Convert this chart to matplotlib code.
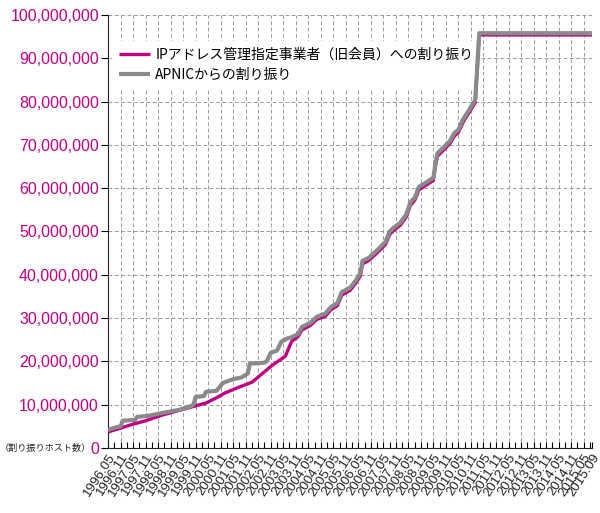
import numpy as np
import matplotlib
matplotlib.use('Agg')
import matplotlib.pyplot as plt
import matplotlib.dates as mdates
import matplotlib.transforms as mtransforms
import pandas as pd

plt.rcParams['font.family'] = ['Noto Sans CJK JP', 'DejaVu Sans']

# APNICからの割り振り (百万ホスト)
apnic_dates = ['1996-05', '1996-07', '1996-09', '1996-11', '1996-12', '1997-06', '1997-07',
               '1997-12', '1998-07', '1999-03', '1999-09', '1999-10', '1999-11', '2000-03',
               '2000-04', '2000-09', '2000-12', '2001-01', '2001-05', '2001-09', '2001-12',
               '2002-01', '2002-08', '2002-09', '2002-11', '2003-02', '2003-04', '2003-07',
               '2003-09', '2003-12', '2004-02', '2004-06', '2004-09', '2005-01', '2005-04',
               '2005-07', '2005-09', '2006-01', '2006-04', '2006-06', '2006-07', '2006-10',
               '2007-02', '2007-06', '2007-08', '2007-10', '2008-01', '2008-04', '2008-06',
               '2008-08', '2008-10', '2009-02', '2009-05', '2009-06', '2009-07', '2009-11',
               '2010-01', '2010-03', '2010-05', '2010-07', '2010-08', '2010-10', '2011-01',
               '2011-03', '2015-09']
apnic_vals = [4.2, 4.5, 4.8, 5.0, 6.3, 6.5, 7.2,
              7.4, 8.1, 8.8, 9.7, 10.1, 11.8, 12.0,
              13.0, 13.2, 15.0, 15.2, 15.9, 16.3, 17.2,
              19.5, 19.7, 20.0, 22.0, 22.5, 24.5, 25.3,
              25.6, 26.3, 28.0, 28.9, 30.3, 31.0, 32.6,
              33.5, 36.0, 37.0, 38.8, 40.5, 43.2, 43.9,
              45.7, 47.6, 50.0, 50.9, 52.0, 54.0, 56.8,
              57.8, 60.3, 61.5, 62.4, 66.0, 68.1, 70.0,
              71.0, 72.7, 73.5, 75.7, 76.5, 78.0, 80.4,
              95.8, 95.8]

# IPアドレス管理指定事業者(旧会員)への割り振り (百万ホスト)
member_dates = ['1996-05', '1996-11', '1997-05', '1997-11', '1998-07', '1999-04', '1999-10',
                '2000-04', '2000-09', '2001-01', '2001-07', '2002-02', '2002-06', '2002-12',
                '2003-06', '2003-09', '2003-12', '2004-02', '2004-06', '2004-09', '2005-01',
                '2005-04', '2005-07', '2005-09', '2006-01', '2006-04', '2006-06', '2006-07',
                '2006-10', '2007-02', '2007-06', '2007-08', '2007-10', '2008-01', '2008-04',
                '2008-06', '2008-08', '2008-10', '2009-02', '2009-05', '2009-06', '2009-07',
                '2009-11', '2010-01', '2010-03', '2010-05', '2010-07', '2010-08', '2010-10',
                '2011-01', '2011-03', '2015-09']
member_vals = [3.7, 4.6, 5.5, 6.3, 7.6, 8.8, 9.6,
               10.4, 11.6, 12.7, 13.9, 15.2, 16.8, 19.2,
               21.2, 24.6, 25.7, 27.3, 28.3, 29.7, 30.4,
               32.0, 32.9, 35.3, 36.4, 38.2, 39.8, 42.5,
               43.3, 45.1, 47.0, 49.3, 50.3, 51.4, 53.4,
               56.1, 57.2, 59.6, 60.9, 61.8, 65.3, 67.4,
               69.4, 70.4, 72.0, 72.9, 75.0, 75.9, 77.4,
               79.8, 95.4, 95.4]

tick_labels = ['%d.%s' % (y, m) for y in range(1996, 2016) for m in ('05', '11')]
tick_labels = [t for t in tick_labels if t != '2015.11'] + ['2015.09']

pink = '#be0082'
gray = '#8a8a8a'

fig = plt.figure(figsize=(6.0, 5.13), dpi=100)
ax = fig.add_axes([108 / 600, 65 / 513, 484 / 600, 433 / 513])

ax.plot(pd.to_datetime(member_dates), np.array(member_vals) * 1e6, color=pink, lw=2.4,
        solid_capstyle='butt', label='IPアドレス管理指定事業者（旧会員）への割り振り', zorder=3)
ax.plot(pd.to_datetime(apnic_dates), np.array(apnic_vals) * 1e6, color=gray, lw=3.0,
        solid_capstyle='butt', label='APNICからの割り振り', zorder=4)

tick_pos = pd.to_datetime([t.replace('.', '-') for t in tick_labels])
ax.set_xlim(pd.Timestamp('1996-05-01'), pd.Timestamp('2015-09-01'))
ax.set_xticks(tick_pos)
ax.set_xticklabels(tick_labels, rotation=57, ha='right', va='top', family='Liberation Sans',
                   rotation_mode='anchor', fontsize=9.6, color='#222222')
# ラベルを少し左へ
shift = mtransforms.ScaledTranslation(-8 / 100, 0, fig.dpi_scale_trans)
for lab in ax.get_xticklabels():
    lab.set_transform(lab.get_transform() + shift)
ax.xaxis.set_minor_locator(mdates.MonthLocator(bymonth=[2, 8]))
ax.tick_params(axis='x', which='both', direction='in', length=4, width=0.8, pad=2.5)

ax.set_ylim(0, 100e6)
ax.set_yticks(np.arange(0, 100e6 + 1, 10e6))
ax.set_yticklabels(['0'] + ['{:,}'.format(int(v)) for v in np.arange(10e6, 100e6 + 1, 10e6)],
                   family='Liberation Sans')
ax.tick_params(axis='y', direction='out', length=5, width=0.8, labelsize=11.5, labelcolor=pink, pad=1.5)

ax.grid(True, color='#9a9a9a', linestyle=(0, (4, 2.5)), linewidth=0.7)
ax.set_axisbelow(True)
for s in ('top', 'right'):
    ax.spines[s].set_visible(False)
ax.spines['left'].set_color('#222222')
ax.spines['bottom'].set_color('#222222')

leg = ax.legend(loc='upper left', bbox_to_anchor=(-0.007, 0.957), fontsize=10,
                handlelength=2.3, handletextpad=0.35, labelspacing=0.47,
                borderpad=0.5, frameon=True, fancybox=False)
leg.get_frame().set_edgecolor('white')
leg.get_frame().set_facecolor('white')
leg.get_frame().set_alpha(1.0)
leg.set_zorder(2)

fig.text(45 / 600, 1 - 449 / 513, '（割り振りホスト数）', fontsize=6.6, ha='center', va='center',
         color='#222222')

fig.savefig('out.png', dpi=100)
